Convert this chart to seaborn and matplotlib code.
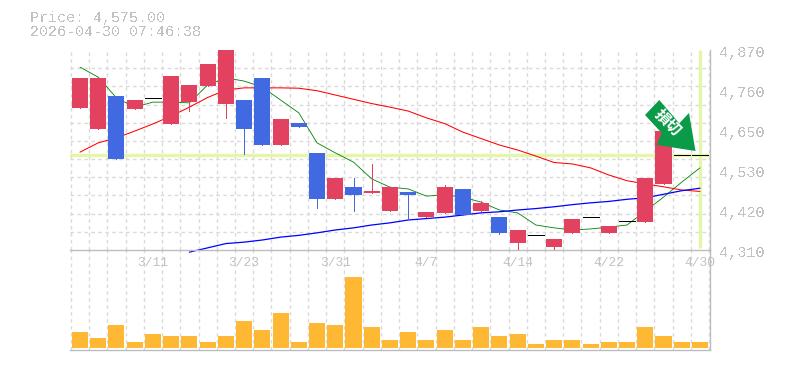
import matplotlib
matplotlib.use("Agg")
import numpy as np
import matplotlib.pyplot as plt
import seaborn as sns
from matplotlib.patches import Polygon
from matplotlib.transforms import ScaledTranslation

# candle data, index 0 is the oldest session
opens = [4708, 4650, 4741, 4706, 4735, 4664, 4725, 4769, 4719, 4730, 4792, 4605, 4666, 4582, 4453, 4486, 4470, 4419,
         4472, 4402, 4414, 4481, 4419, 4402, 4330, 4351, 4318, 4358, 4402, 4358, 4390, 4388, 4495, 4576, 4576]
closes = [4792, 4792, 4565, 4730, 4735, 4797, 4772, 4831, 4870, 4650, 4605, 4677, 4654, 4453, 4512, 4464, 4475, 4486,
          4464, 4416, 4486, 4408, 4442, 4358, 4366, 4351, 4341, 4397, 4402, 4377, 4390, 4512, 4643, 4576, 4576]
highs = [4792, 4792, 4741, 4730, 4735, 4797, 4772, 4831, 4870, 4730, 4792, 4677, 4666, 4582, 4512, 4512, 4551, 4486,
         4472, 4416, 4492, 4481, 4447, 4402, 4366, 4351, 4341, 4397, 4402, 4377, 4390, 4512, 4643, 4576, 4576]
lows = [4708, 4650, 4565, 4706, 4735, 4664, 4699, 4769, 4680, 4579, 4605, 4605, 4654, 4428, 4453, 4419, 4470, 4419,
        4400, 4402, 4414, 4408, 4419, 4355, 4313, 4351, 4308, 4358, 4402, 4358, 4390, 4388, 4495, 4576, 4576]
volumes = [16, 10, 23, 6, 14, 12, 12, 6, 12, 27, 18, 35, 6, 25, 23, 71, 21, 8,
           16, 8, 18, 8, 21, 12, 14, 4, 8, 8, 4, 6, 6, 21, 12, 6, 6]

ma_short = [4822, 4794, 4736, 4710, 4724, 4724, 4722, 4772, 4792, 4783, 4766, 4730, 4694, 4610, 4582, 4556, 4509, 4486,
            4481, 4461, 4464, 4458, 4444, 4422, 4414, 4380, 4372, 4366, 4369, 4374, 4380, 4419, 4458, 4500, 4540]
ma_mid = [4584, 4610, 4624, 4643, 4663, 4685, 4710, 4737, 4758, 4764, 4764, 4764, 4763, 4756, 4744, 4732, 4720, 4710,
          4699, 4680, 4664, 4640, 4622, 4604, 4590, 4573, 4555, 4551, 4540, 4520, 4504, 4495, 4487, 4478, 4474]
ma_long = [4304, 4316, 4328, 4332, 4338, 4346, 4351, 4358, 4366, 4372, 4380, 4386,
           4394, 4398, 4402, 4408, 4414, 4417, 4422, 4426, 4431, 4437, 4442, 4446, 4452, 4456, 4466, 4476, 4483]

price_labels = ["4,310", "4,420", "4,530", "4,650", "4,760", "4,870"]
date_ticks = [4, 9, 14, 19, 24, 29, 34]
date_labels = ["3/11", "3/23", "3/31", "4/7", "4/14", "4/22", "4/30"]
last_price = 4575

W, H = 785, 370
GRAY = "#c2c2c2"
GRID = "#dadada"
RED = "#e2425f"
BLUE = "#4169e1"
LIME = "#e4f7a8"

sns.set_style("white")
plt.rcParams["font.family"] = ["Liberation Mono", "DejaVu Sans"]

days = np.arange(len(opens))
fig = plt.figure(figsize=(W / 100, H / 100), dpi=100)
ax_vol = fig.add_axes([70 / W, 20 / H, 640 / W, 100 / H])
ax = fig.add_axes([70 / W, 120 / H, 640 / W, 200 / H])
ax.patch.set_visible(False)
ax_vol.patch.set_visible(False)

# moving averages sit under the candles
sns.lineplot(x=days, y=ma_short, ax=ax, color="#008000", errorbar=None, zorder=2)
sns.lineplot(x=days, y=ma_mid, ax=ax, color="#ff0000", errorbar=None, zorder=2)
sns.lineplot(x=days[6:], y=ma_long, ax=ax, color="#0000ff", errorbar=None, zorder=2)
for ln, w in zip(ax.get_lines(), [0.6, 0.75, 0.9]):
    ln.set_linewidth(w)
    ln.set_clip_on(False)

# last price guide lines
ax.axhline(last_price, color=LIME, lw=2.4, zorder=1.5)
ax.plot([days[-1], days[-1]], [4316, 4870], color=LIME, lw=2.4, zorder=1.5, solid_capstyle="butt")

# candles
for d, o, c, h, l in zip(days, opens, closes, highs, lows):
    if o == c or (h == l):
        ax.plot([d - 0.44, d + 0.44], [o, o], color="black", lw=0.72, zorder=3, antialiased=False, solid_capstyle="butt")
        continue
    col = RED if c > o else BLUE
    ax.vlines(d, l, h, color=col, lw=0.72, zorder=3, antialiased=False)
    ax.bar(d, abs(c - o), bottom=min(o, c), width=0.88, color=col, lw=0, zorder=3)

sns.barplot(x=days, y=volumes, ax=ax_vol, native_scale=True, color="#ffb833", saturation=1, width=0.88, lw=0, zorder=3)

for a in (ax, ax_vol):
    a.set_xlim(-0.548, 34.55)
    a.set_xlabel("")
    a.set_ylabel("")
    a.set_xticks([])
    a.set_xticks(np.r_[-0.5, days + 0.5], minor=True)
    a.grid(which="minor", axis="x", color=GRID, lw=1.0, ls=(0, (2.6, 2.4)), zorder=0)
    a.tick_params(which="both", length=0)
    a.set_axisbelow(True)
    for side in ("top", "left"):
        a.spines[side].set_visible(False)
    for side in ("bottom", "right"):
        a.spines[side].set_color("#bdbdbd")
        a.spines[side].set_linewidth(1.0)

ax.set_ylim(4310, 4870)
ax.set_yticks(np.linspace(4310, 4870, 12), minor=True)
ax.grid(which="minor", axis="y", color=GRID, lw=1.0, ls=(0, (2.6, 2.4)), zorder=0)
ax.yaxis.tick_right()
ax.set_yticks(np.linspace(4310, 4870, len(price_labels)))
ax.set_yticklabels(price_labels, fontsize=11, color=GRAY, antialiased=False)
ax.tick_params(axis="y", which="major", pad=7)
down = ScaledTranslation(0, -1 / 72, fig.dpi_scale_trans)
for lab in ax.get_yticklabels():
    lab.set_transform(lab.get_transform() + down)

ax.set_xticks(date_ticks)
ax.set_xticklabels(date_labels, fontsize=9.4, color=GRAY)
ax.tick_params(axis="x", which="major", pad=5)

ax_vol.set_ylim(-2, 98)
ax_vol.set_yticks([])
ax_vol.grid(False, axis="y")

# header text
fig.text(30 / W, 1 - 18 / H, "Price: 4,575.00", fontsize=10.8, color=GRAY, va="center", antialiased=False)
fig.text(30 / W, 1 - 32.5 / H, "2026-04-30 07:46:38", fontsize=10.8, color=GRAY, va="center", antialiased=False)

# stop marker
arrow = [(659.3, 100), (645, 115), (661.7, 133), (656.7, 145), (695.5, 151), (689, 113), (679.3, 123.3)]
fig.add_artist(Polygon([(x / W, 1 - y / H) for x, y in arrow], closed=True, transform=fig.transFigure,
                       facecolor="#0a9a48", edgecolor="none", zorder=5))
fig.text(667.5 / W, 1 - 122.5 / H, "損切", fontsize=11, color="white", fontweight="bold", rotation=-45,
         rotation_mode="anchor", ha="center", va="center", family=["Noto Sans CJK JP", "DejaVu Sans"], zorder=6)

fig.savefig("out.png", dpi=100)
